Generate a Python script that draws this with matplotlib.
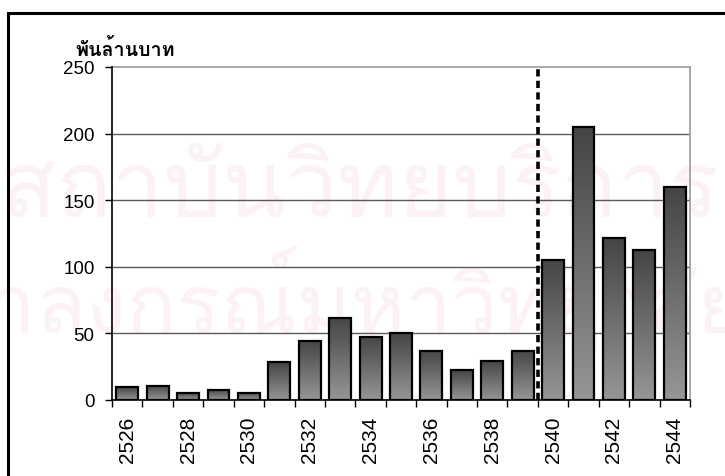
import numpy as np
import matplotlib
matplotlib.use("Agg")
import matplotlib.pyplot as plt
from matplotlib import font_manager, ft2font
from matplotlib.patches import Rectangle
from matplotlib.lines import Line2D

# Budget outlays by Buddhist-era year (thousand million baht)
years = [2526, 2527, 2528, 2529, 2530, 2531, 2532, 2533, 2534, 2535,
         2536, 2537, 2538, 2539, 2540, 2541, 2542, 2543, 2544]
values = [9.5, 10.7, 5.3, 7.8, 5.3, 28.3, 44.5, 61.6, 47.3, 50.0,
          36.8, 22.3, 29.5, 36.8, 105.3, 204.7, 121.4, 112.9, 159.7]
y_ticks = [0, 50, 100, 150, 200, 250]
unit_label = "พันล้านบาท"
break_between = (2539, 2540)
watermark_lines = ["สถาบันวิทยบริการ", "จุฬาลงกรณ์มหาวิทยาลัย"]


def find_font_with(ch):
    for f in font_manager.fontManager.ttflist:
        try:
            ft = ft2font.FT2Font(f.fname)
            if ord(ch) in ft.get_charmap():
                return f.name
        except Exception:
            pass
    return None


thai_font = find_font_with("พ")
thai_family = [thai_font, "DejaVu Sans"] if thai_font else ["DejaVu Sans"]

plt.rcParams["font.family"] = ["Liberation Sans", "DejaVu Sans"]

W, H = 725, 477
fig = plt.figure(figsize=(W / 100, H / 100), dpi=100)
fig.patch.set_facecolor("white")


def fx(px):
    return px / W


def fy(py):
    return 1 - py / H


# faint watermark behind the chart
wm_color = "#fcf1f5"
renderer = fig.canvas.get_renderer()
wm1 = fig.text(fx(0), fy(217), watermark_lines[0], fontsize=60, color=wm_color,
               family=thai_family, ha="left", va="baseline", zorder=0)
wm2 = fig.text(fx(745), fy(333), watermark_lines[1], fontsize=60, color=wm_color,
               family=thai_family, ha="right", va="baseline", zorder=0)
for t, target in ((wm1, 720), (wm2, 860)):
    w = t.get_window_extent(renderer).width
    if w > 0:
        t.set_fontsize(60 * target / w)

# outer frame
fig.add_artist(Line2D([fx(8), fx(8)], [fy(14), 0], color="black", lw=2.2,
                      transform=fig.transFigure, zorder=1))
fig.add_artist(Line2D([fx(8), 1], [fy(14), fy(14)], color="black", lw=2.2,
                      transform=fig.transFigure, zorder=1))

left, right, top, bottom = 112, 690, 68, 401
ax = fig.add_axes([fx(left), fy(bottom), fx(right - left), (bottom - top) / H])
ax.patch.set_alpha(0)
ax.set_zorder(2)

n = len(years)
x = np.arange(n)

# horizontal gridlines
for yv in y_ticks[1:-1]:
    ax.axhline(yv, color="#5a5a5a", lw=1.0, zorder=1)

# gradient-filled bars
bar_w = 0.72
grad = np.linspace(0, 1, 256).reshape(-1, 1)
cmap = matplotlib.colors.LinearSegmentedColormap.from_list("g", ["#969696", "#454545"])
bars = ax.bar(x, values, width=bar_w, color="none", edgecolor="black",
              linewidth=1.6, zorder=4)
for b in bars:
    bx, by = b.get_x(), b.get_y()
    bw, bh = b.get_width(), b.get_height()
    im = ax.imshow(grad, cmap=cmap, aspect="auto", origin="lower",
                   extent=[bx, bx + bw, by, by + bh], zorder=3,
                   interpolation="bilinear")
    im.set_clip_path(Rectangle((bx, by), bw, bh, transform=ax.transData))
ax.set_xlim(-0.5, n - 0.5)
ax.set_ylim(0, 250)

# dashed divider
bx_pos = (years.index(break_between[0]) + years.index(break_between[1])) / 2
ax.axvline(bx_pos, color="black", lw=2.6, linestyle=(0, (2.0, 1.2)), zorder=5)

# spines
for s in ("top", "right"):
    ax.spines[s].set_color("#9a9a9a")
    ax.spines[s].set_linewidth(1.2)
for s in ("left", "bottom"):
    ax.spines[s].set_color("black")
    ax.spines[s].set_linewidth(1.2)
    ax.spines[s].set_zorder(6)

ax.set_yticks(y_ticks)
ax.set_yticklabels([str(v) for v in y_ticks])
ax.tick_params(axis="y", direction="out", length=5, width=1, pad=7.5,
               labelsize=13.5, colors="black")

ax.set_xticks(x[::2])
ax.set_xticklabels([str(y) for y in years[::2]], rotation=90)
ax.set_xticks(np.arange(-0.5, n, 1.0), minor=True)
ax.tick_params(axis="x", which="major", length=0, pad=11, labelsize=15)
ax.tick_params(axis="x", which="minor", direction="out", length=5, width=1)

# unit label
ul = fig.text(fx(75), fy(56), unit_label, family=thai_family, fontsize=13,
              fontweight="bold", ha="left", va="baseline")
w = ul.get_window_extent(renderer).width
if w > 0:
    ul.set_fontsize(13 * 100 / w)

fig.savefig("out.png", dpi=100)
